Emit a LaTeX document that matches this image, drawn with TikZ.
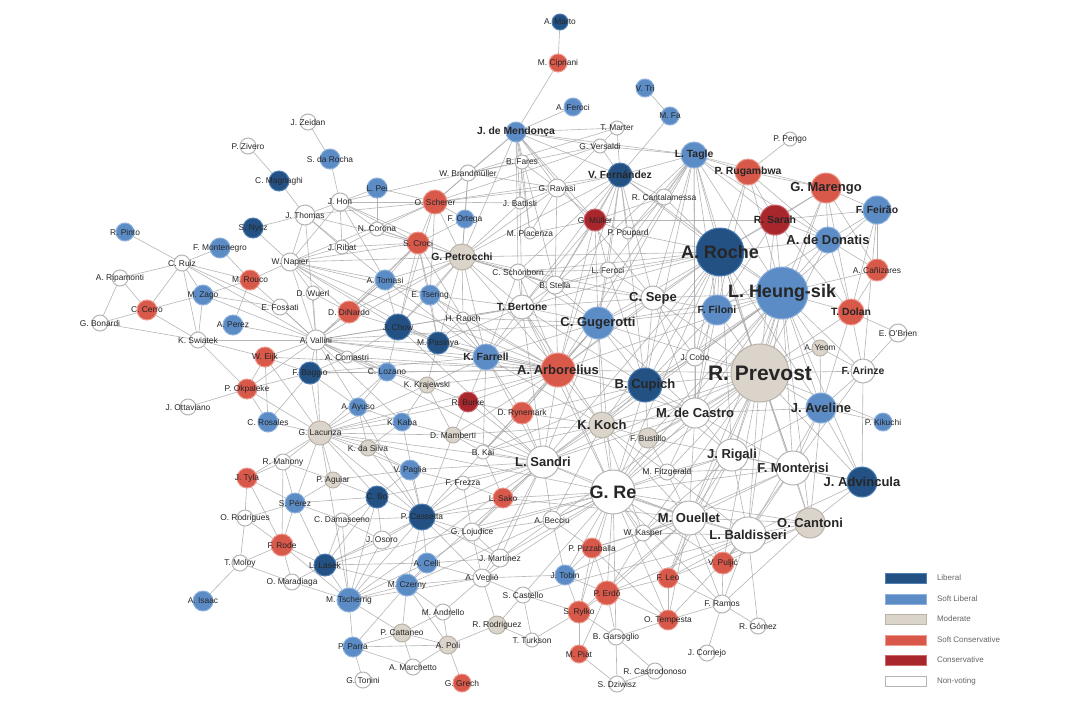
\documentclass[tikz,border=0pt]{standalone}
\usepackage{fontspec}
\setmainfont{Liberation Sans}
\definecolor{lib}{HTML}{245184}
\definecolor{libd}{HTML}{4F7FB3}
\definecolor{slib}{HTML}{5C8CC6}
\definecolor{slibd}{HTML}{8DB1DC}
\definecolor{mod}{HTML}{DAD4CB}
\definecolor{modd}{HTML}{B8B2A8}
\definecolor{scon}{HTML}{D8584A}
\definecolor{scond}{HTML}{EE9A8E}
\definecolor{con}{HTML}{A9262C}
\definecolor{cond}{HTML}{CC6A6E}
\definecolor{non}{HTML}{FFFFFF}
\definecolor{nond}{HTML}{B4B4B4}
\definecolor{edgec}{HTML}{A4A4A4}
\pgfdeclarelayer{bg}
\pgfsetlayers{bg,main}
\newcommand\ftA{\fontsize{10.5}{12}\selectfont\bfseries}
\newcommand\ftB{\fontsize{9}{10}\selectfont\bfseries}
\newcommand\ftC{\fontsize{6.5}{7}\selectfont\bfseries}
\newcommand\ftD{\fontsize{5.2}{6}\selectfont\bfseries}
\newcommand\ftE{\fontsize{4.2}{5}\selectfont}
\tikzset{
  every node/.style={inner sep=0pt, outer sep=0pt},
  edge/.style={draw=edgec, line width=0.3pt, opacity=0.8},
  legbox/.style={rectangle, minimum width=20.5pt, minimum height=5pt, line width=0.4pt},
  legtext/.style={anchor=west, font=\fontsize{4}{5}\selectfont, text=black!60},
}
\def\nodelist{%
marto/560/22/8/lib/E/A. Marto,
cipri/558/63/9/scon/E/M. Cipriani,
aferoci/573/107/9/slib/E/A. Feroci,
vtri/645/88/9/slib/E/V. Tri,
mfa/670/116/9/slib/E/M. Fa,
marter/617/128/7/non/E/T. Marter,
versaldi/600/146/7/non/E/G. Versaldi,
mendonca/516/132/10/slib/D/J. de Mendonça,
fares/522/162/7/non/E/B. Fares,
brand/468/173/8/non/E/W. Brandmüller,
vfern/620/175/12/lib/D/V. Fernández,
ravasi/557/188/9/non/E/G. Ravasi,
battisti/520/203/6/non/E/J. Battisti,
canta/664/197/8/non/E/R. Cantalamessa,
muller/595/220/11/con/E/G. Müller,
piacenza/530/233/6/non/E/M. Piacenza,
poupard/628/233/6/non/E/P. Poupard,
tagle/694/155/13/slib/D/L. Tagle,
rugambwa/748/172/13/scon/D/P. Rugambwa,
pengo/790/139/7/non/E/P. Pengo,
marengo/826/188/15/scon/C/G. Marengo,
feirao/877/210/14/slib/D/F. Feirão,
sarah/775/220/15/con/D/R. Sarah,
donatis/828/240/13/slib/C/A. de Donatis,
roche/720/252/24/lib/B/A. Roche,
heung/782/293/26/slib/B/L. Heung-sik,
canizares/877/270/11/scon/E/A. Cañizares,
dolan/851/312/13/scon/D/T. Dolan,
obrien/898/333/9/non/E/E. O'Brien,
yeom/820/348/8/mod/E/A. Yeom,
arinze/863/371/12/non/D/F. Arinze,
prevost/760/373/29/mod/A/R. Prevost,
aveline/821/408/15/slib/C/J. Aveline,
kikuchi/883/422/9/slib/E/P. Kikuchi,
advincula/862/482/15/lib/C/J. Advincula,
monterisi/793/468/17/non/C/F. Monterisi,
rigali/732/455/16/non/C/J. Rigali,
castro/695/413/15/non/C/M. de Castro,
cupich/645/385/17/lib/C/B. Cupich,
cobo/695/357/9/non/E/J. Cobo,
filoni/717/310/15/slib/D/F. Filoni,
sepe/653/298/12/non/C/C. Sepe,
lferoci/608/270/8/non/E/L. Feroci,
stella/555/285/9/non/E/B. Stella,
schon/518/272/8/non/E/C. Schönborn,
petrocchi/462/257/13/mod/D/G. Petrocchi,
bertone/522/307/12/non/D/T. Bertone,
gugerotti/598/323/16/slib/C/C. Gugerotti,
arborelius/558/370/17/scon/C/A. Arborelius,
koch/602/425/13/mod/C/K. Koch,
bustillo/648/438/10/mod/E/F. Bustillo,
sandri/543/462/16/non/C/L. Sandri,
re/613/492/22/non/B/G. Re,
fitz/667/472/8/non/E/M. Fitzgerald,
ouellet/689/518/17/non/C/M. Ouellet,
baldisseri/748/535/18/non/C/L. Baldisseri,
cantoni/810/523/15/mod/C/O. Cantoni,
kasper/643/533/8/non/E/W. Kasper,
becciu/552/520/9/non/E/A. Becciu,
pizzaballa/592/548/10/scon/E/P. Pizzaballa,
tobin/565/575/10/slib/E/J. Tobin,
erdo/607/593/12/scon/E/P. Erdő,
leo/668/578/10/scon/E/F. Leo,
puljic/723/563/11/scon/E/V. Puljić,
rylko/579/612/11/scon/E/S. Ryłko,
tempesta/668/620/10/scon/E/O. Tempesta,
ramos/722/604/9/non/E/F. Ramos,
gomez/758/626/8/non/E/R. Gómez,
garsoglio/616/637/8/non/E/B. Garsoglio,
cornejo/707/653/8/non/E/J. Cornejo,
piat/579/654/9/scon/E/M. Piat,
castrodonoso/655/671/8/non/E/R. Castrodonoso,
dziwisz/617/684/8/non/E/S. Dziwisz,
castello/523/595/8/non/E/S. Castello,
turkson/532/640/7/non/E/T. Turkson,
rodriguez/497/625/9/mod/E/R. Rodriguez,
martinez/500/558/9/non/E/J. Martínez,
veglio/482/578/9/non/E/A. Vegliò,
czerny/407/585/11/slib/E/M. Czerny,
celli/427/563/10/slib/E/A. Celli,
andrello/443/612/8/non/E/M. Andrello,
cattaneo/402/633/9/mod/E/P. Cattaneo,
poli/448/645/9/mod/E/A. Poli,
marchetto/413/667/8/non/E/A. Marchetto,
parra/353/647/10/slib/E/P. Parra,
tonini/363/680/8/non/E/G. Tonini,
grech/462/683/9/scon/E/G. Grech,
tscherrig/349/600/12/slib/E/M. Tscherrig,
lasek/325/565/11/lib/E/L. Lasek,
osoro/382/540/9/non/E/J. Osoro,
damasceno/342/520/7/non/E/C. Damasceno,
cassetta/422/517/13/lib/E/P. Cassetta,
lojudice/472/532/9/non/E/G. Lojudice,
sako/503/498/10/scon/E/L. Sako,
frezza/463/483/7/non/E/F. Frezza,
bo/377/497/11/lib/E/C. Bo,
paglia/410/470/10/slib/E/V. Paglia,
aguiar/333/480/8/mod/E/P. Aguiar,
perez/295/503/10/slib/E/S. Pérez,
tyla/247/478/10/scon/E/J. Tyla,
mahony/283/462/8/non/E/R. Mahony,
rodrigues/245/518/8/non/E/O. Rodrigues,
rode/282/545/11/scon/E/F. Rode,
moloy/240/563/8/non/E/T. Moloy,
maradiaga/292/582/8/non/E/O. Maradiaga,
isaac/203/601/10/slib/E/A. Isaac,
lacunza/320/433/12/mod/E/G. Lacunza,
dasilva/368/448/8/mod/E/K. da Silva,
kaba/402/422/9/slib/E/K. Kaba,
ayuso/358/407/9/slib/E/A. Ayuso,
mamberti/453/435/8/mod/E/D. Mamberti,
kai/483/452/7/non/E/B. Kai,
rynemark/522/413/11/scon/E/D. Rynemark,
burke/468/402/10/con/E/R. Burke,
krajewski/427/385/8/mod/E/K. Krajewski,
lozano/387/372/9/slib/E/C. Lozano,
baggio/310/373/11/lib/E/F. Baggio,
comastri/347/357/6/non/E/A. Comastri,
farrell/486/357/13/slib/D/K. Farrell,
pasinya/438/343/11/lib/E/M. Pasinya,
chow/398/327/13/lib/E/J. Chow,
rauch/463/318/6/non/E/H. Rauch,
vallini/316/340/10/non/E/A. Vallini,
eijk/265/357/10/scon/E/W. Eijk,
okpaleke/247/389/10/scon/E/P. Okpaleke,
ottaviano/188/407/8/non/E/J. Ottaviano,
rosales/268/422/10/slib/E/C. Rosales,
dinardo/349/312/11/scon/E/D. DiNardo,
tsering/430/295/10/slib/E/E. Tsering,
tomasi/385/280/10/slib/E/A. Tomasi,
wuerl/313/293/7/non/E/D. Wuerl,
napier/290/262/9/non/E/W. Napier,
croci/418/243/11/scon/E/S. Croci,
ribat/342/247/7/non/E/J. Ribat,
corona/377/229/7/non/E/N. Corona,
ortega/465/219/9/slib/E/F. Ortega,
scherer/435/202/12/scon/E/O. Scherer,
hon/340/202/9/non/E/J. Hon,
pei/377/188/10/slib/E/L. Pei,
dacrocha/330/159/10/slib/E/S. da Rocha,
zeidan/308/122/8/non/E/J. Zeidan,
zivero/248/146/8/non/E/P. Zivero,
magnaghi/279/181/10/lib/E/C. Magnaghi,
thomas/305/215/10/non/E/J. Thomas,
nycz/253/228/10/lib/E/S. Nycz,
pinto/125/232/9/slib/E/R. Pinto,
montenegro/220/248/10/slib/E/F. Montenegro,
ruiz/182/263/8/non/E/C. Ruiz,
ripamonti/120/278/8/non/E/A. Ripamonti,
rouco/250/280/10/scon/E/M. Rouco,
zago/203/295/10/slib/E/M. Zago,
fossati/280/307/8/non/E/E. Fossati,
cerro/147/310/10/scon/E/C. Cerro,
bonardi/100/323/8/non/E/G. Bonardi,
aperez/233/325/10/slib/E/A. Perez,
swiatek/198/340/8/non/E/K. Swiatek}
\begin{document}
\begin{tikzpicture}[x=0.5pt,y=-0.5pt]
\begin{pgfonlayer}{bg}
\fill[white] (0,0) rectangle (1079,718);
\end{pgfonlayer}
\useasboundingbox (0,0) rectangle (1079,718);
% node circles
\foreach \nm/\xx/\yy/\rr/\cl/\ft/\tx in \nodelist {
  \node[circle, minimum size=\rr pt, fill=\cl, draw=\cl d, line width=0.5pt] (\nm) at (\xx,\yy) {};
}
% connectors
\begin{pgfonlayer}{bg}
\foreach \a/\b in {
marto/cipri, cipri/mendonca, aferoci/mendonca, vtri/mfa, mfa/vfern,
mendonca/fares, mendonca/brand, mendonca/vfern, mendonca/ravasi, mendonca/scherer, mendonca/versaldi, mendonca/marter, mendonca/tagle, mendonca/piacenza, mendonca/battisti, mendonca/muller,
marter/vfern, marter/ravasi, marter/brand,
versaldi/brand, versaldi/vfern, versaldi/tagle, versaldi/scherer,
fares/battisti, fares/piacenza, fares/ravasi, fares/brand,
brand/scherer, brand/ravasi, brand/hon, brand/petrocchi, brand/ortega,
vfern/tagle, vfern/ravasi, vfern/canta, vfern/muller, vfern/poupard, vfern/roche, vfern/gugerotti, vfern/sepe, vfern/heung, vfern/scherer, vfern/schon,
ravasi/piacenza, ravasi/muller, ravasi/battisti, ravasi/scherer, ravasi/stella, ravasi/petrocchi,
battisti/scherer, battisti/petrocchi, battisti/bertone,
canta/tagle, canta/roche, canta/muller, canta/poupard,
muller/piacenza, muller/sarah, muller/lferoci, muller/poupard, muller/bertone, muller/gugerotti, muller/arborelius, muller/stella,
tagle/rugambwa, tagle/roche, tagle/heung, tagle/filoni, tagle/sepe, tagle/sarah, tagle/gugerotti, tagle/cupich, tagle/donatis, tagle/marengo, tagle/castro, tagle/prevost, tagle/poupard,
rugambwa/pengo, rugambwa/marengo, rugambwa/sarah, rugambwa/roche, rugambwa/heung, rugambwa/donatis, rugambwa/filoni,
marengo/sarah, marengo/donatis, marengo/feirao, marengo/heung, marengo/roche, marengo/canizares, marengo/dolan, marengo/prevost,
feirao/donatis, feirao/heung, feirao/sarah, feirao/dolan, feirao/arinze, feirao/canizares,
sarah/roche, sarah/heung, sarah/donatis, sarah/filoni, sarah/prevost, sarah/dolan,
donatis/roche, donatis/heung, donatis/canizares, donatis/dolan, donatis/prevost, donatis/filoni,
roche/heung, roche/filoni, roche/sepe, roche/prevost, roche/gugerotti, roche/cupich, roche/castro, roche/lferoci, roche/arborelius, roche/cobo, roche/rigali, roche/poupard, roche/aveline,
heung/filoni, heung/prevost, heung/dolan, heung/canizares, heung/yeom, heung/arinze, heung/aveline, heung/castro, heung/cupich, heung/sepe, heung/gugerotti, heung/rigali, heung/monterisi, heung/re, heung/arborelius,
canizares/dolan, dolan/obrien, dolan/arinze, dolan/prevost, dolan/aveline, obrien/arinze,
yeom/prevost, yeom/arinze, yeom/aveline,
arinze/prevost, arinze/aveline, arinze/advincula, arinze/monterisi,
prevost/aveline, prevost/castro, prevost/cupich, prevost/rigali, prevost/monterisi, prevost/re, prevost/ouellet, prevost/baldisseri, prevost/cantoni, prevost/filoni, prevost/cobo, prevost/sepe, prevost/gugerotti, prevost/arborelius, prevost/koch, prevost/advincula, prevost/sandri, prevost/bustillo, prevost/fitz,
aveline/kikuchi, aveline/advincula, aveline/monterisi, aveline/rigali, aveline/castro, aveline/cantoni, aveline/baldisseri,
advincula/monterisi, advincula/cantoni, advincula/baldisseri, advincula/rigali,
monterisi/rigali, monterisi/baldisseri, monterisi/cantoni, monterisi/ouellet, monterisi/castro, monterisi/re,
rigali/castro, rigali/re, rigali/ouellet, rigali/baldisseri, rigali/fitz, rigali/cupich,
castro/cupich, castro/re, castro/koch, castro/bustillo, castro/ouellet, castro/cobo, castro/filoni, castro/sepe,
cupich/arborelius, cupich/gugerotti, cupich/sepe, cupich/koch, cupich/re, cupich/sandri, cupich/cobo, cupich/filoni, cupich/bustillo, cupich/farrell, cupich/bertone,
cobo/filoni, cobo/sepe, filoni/sepe, filoni/gugerotti,
sepe/gugerotti, sepe/lferoci, sepe/stella, sepe/bertone, sepe/arborelius,
lferoci/stella, lferoci/gugerotti, lferoci/schon,
stella/schon, stella/bertone, stella/gugerotti, stella/petrocchi,
schon/petrocchi, schon/bertone, schon/farrell,
petrocchi/bertone, petrocchi/croci, petrocchi/scherer, petrocchi/ortega, petrocchi/tsering, petrocchi/chow, petrocchi/farrell, petrocchi/arborelius, petrocchi/corona, petrocchi/napier,
bertone/gugerotti, bertone/arborelius, bertone/farrell, bertone/rauch, bertone/re,
gugerotti/arborelius, gugerotti/koch, gugerotti/re, gugerotti/farrell, gugerotti/sandri,
arborelius/koch, arborelius/sandri, arborelius/re, arborelius/farrell, arborelius/rynemark, arborelius/burke, arborelius/pasinya, arborelius/chow, arborelius/vallini, arborelius/kai, arborelius/lacunza, arborelius/krajewski,
koch/sandri, koch/re, koch/bustillo, koch/rynemark, koch/fitz, koch/ouellet,
bustillo/re, bustillo/fitz,
sandri/re, sandri/becciu, sandri/kai, sandri/rynemark, sandri/ouellet, sandri/sako, sandri/lojudice, sandri/cassetta, sandri/mamberti,
re/fitz, re/ouellet, re/baldisseri, re/kasper, re/becciu, re/pizzaballa, re/erdo, re/tobin, re/leo, re/sako, re/puljic, re/rylko, re/cantoni,
fitz/ouellet, fitz/baldisseri,
ouellet/baldisseri, ouellet/kasper, ouellet/cantoni, ouellet/leo, ouellet/puljic, ouellet/pizzaballa, ouellet/erdo,
baldisseri/cantoni, baldisseri/puljic, baldisseri/ramos, baldisseri/kasper, baldisseri/castello,
cantoni/puljic,
kasper/pizzaballa, kasper/erdo,
becciu/pizzaballa, becciu/martinez, becciu/tobin, becciu/lojudice,
pizzaballa/erdo, pizzaballa/tobin, pizzaballa/rylko, pizzaballa/tempesta,
tobin/erdo, tobin/rylko, tobin/veglio,
erdo/rylko, erdo/garsoglio, erdo/leo, erdo/tempesta, erdo/piat,
leo/tempesta, leo/ramos, puljic/ramos,
rylko/piat, rylko/castello, rylko/garsoglio, rylko/turkson,
tempesta/ramos, tempesta/garsoglio,
ramos/gomez, ramos/cornejo,
garsoglio/dziwisz, garsoglio/castrodonoso, piat/dziwisz, castrodonoso/dziwisz,
castello/rodriguez, castello/turkson, castello/veglio,
rodriguez/veglio, rodriguez/poli, rodriguez/turkson,
martinez/veglio, martinez/lojudice, martinez/celli,
veglio/czerny, veglio/celli, veglio/andrello, veglio/lojudice,
czerny/celli, czerny/tscherrig, czerny/andrello, czerny/cattaneo, czerny/parra, czerny/poli, czerny/cassetta, czerny/lasek,
celli/cassetta, celli/lojudice,
andrello/poli, andrello/cattaneo,
cattaneo/poli, cattaneo/parra, cattaneo/marchetto,
poli/grech, poli/marchetto, poli/parra,
parra/tonini, parra/tscherrig, parra/marchetto,
tscherrig/lasek, tscherrig/osoro, tscherrig/maradiaga, tscherrig/cassetta, tscherrig/cattaneo, tscherrig/rode,
lasek/osoro, lasek/damasceno, lasek/rode, lasek/maradiaga, lasek/cassetta,
osoro/cassetta, osoro/damasceno, osoro/bo,
damasceno/cassetta, damasceno/perez, damasceno/bo,
cassetta/lojudice, cassetta/bo, cassetta/paglia, cassetta/frezza, cassetta/sako, cassetta/lacunza,
lojudice/sako, lojudice/frezza, sako/frezza, sako/kai, frezza/paglia,
bo/paglia, bo/aguiar, bo/lacunza, bo/perez,
paglia/aguiar, paglia/dasilva, paglia/lacunza,
aguiar/perez, aguiar/lacunza, aguiar/mahony,
perez/tyla, perez/rode, perez/mahony, perez/rodrigues,
tyla/mahony, tyla/rodrigues, tyla/rode, tyla/lacunza,
rodrigues/rode, rodrigues/moloy, rode/moloy, rode/maradiaga, moloy/maradiaga, moloy/isaac,
lacunza/dasilva, lacunza/kaba, lacunza/ayuso, lacunza/baggio, lacunza/vallini, lacunza/rosales, lacunza/mahony, lacunza/okpaleke,
dasilva/kaba, dasilva/ayuso, kaba/ayuso, kaba/krajewski, kaba/mamberti,
ayuso/lozano, ayuso/baggio,
mamberti/burke, mamberti/kai, mamberti/krajewski, kai/rynemark, rynemark/burke,
burke/krajewski, burke/farrell, krajewski/lozano, krajewski/pasinya,
lozano/baggio, lozano/comastri, lozano/chow,
baggio/vallini, baggio/comastri, baggio/rosales, baggio/eijk, baggio/farrell,
comastri/vallini, comastri/chow,
farrell/pasinya, farrell/chow, farrell/rauch, farrell/tsering,
pasinya/chow, pasinya/rauch, pasinya/tsering,
chow/tsering, chow/tomasi, chow/dinardo, chow/vallini,
rauch/tsering,
vallini/eijk, vallini/okpaleke, vallini/wuerl, vallini/napier, vallini/fossati, vallini/dinardo, vallini/swiatek, vallini/rouco, vallini/zago, vallini/tomasi, vallini/thomas, vallini/ruiz, vallini/farrell, vallini/sandri, vallini/gugerotti,
lacunza/sandri, lacunza/re, cassetta/re, lasek/re, baggio/arborelius, eijk/arborelius, tscherrig/sandri, napier/arborelius,
eijk/okpaleke, eijk/swiatek, okpaleke/ottaviano, okpaleke/rosales, rosales/eijk,
dinardo/tomasi, dinardo/wuerl, dinardo/napier,
tsering/tomasi, tsering/croci, tomasi/croci, tomasi/napier, wuerl/napier,
napier/thomas, napier/ribat, napier/hon, napier/croci, napier/rouco, napier/nycz,
croci/scherer, croci/ribat, croci/corona, ribat/corona, ribat/hon,
corona/hon, corona/scherer, ortega/scherer, ortega/croci,
scherer/hon, scherer/pei, scherer/thomas,
hon/thomas, hon/dacrocha, hon/pei, pei/corona,
dacrocha/zeidan, zivero/magnaghi, magnaghi/thomas, thomas/nycz,
pinto/ruiz, montenegro/rouco, montenegro/ruiz,
ruiz/ripamonti, ruiz/cerro, ruiz/zago, ruiz/swiatek, ruiz/rouco, ruiz/fossati,
ripamonti/cerro, ripamonti/bonardi,
rouco/zago, rouco/aperez, zago/cerro, zago/swiatek, zago/fossati,
cerro/bonardi, cerro/swiatek, bonardi/swiatek,
aperez/vallini, swiatek/okpaleke,
re/czerny, re/martinez, re/veglio, re/lojudice, re/castello, re/garsoglio, re/tempesta, re/ramos,
sandri/czerny, sandri/bo, sandri/paglia, sandri/frezza, sandri/burke, sandri/farrell, sandri/chow, sandri/martinez, sandri/veglio,
ouellet/tobin, ouellet/rylko, ouellet/tempesta, ouellet/ramos, ouellet/sako,
baldisseri/leo, baldisseri/erdo, baldisseri/tempesta, baldisseri/gomez,
monterisi/fitz, monterisi/kasper, monterisi/puljic, cantoni/ramos, cantoni/leo,
rigali/kasper, rigali/leo, rigali/bustillo,
castro/fitz, castro/sandri, castro/arborelius, castro/gugerotti,
cupich/rynemark, cupich/kai, cupich/lferoci,
koch/kai, koch/mamberti, koch/becciu, koch/kasper, koch/farrell,
arborelius/mamberti, arborelius/tsering, arborelius/rauch, arborelius/schon, arborelius/stella, arborelius/lozano, arborelius/comastri,
gugerotti/rauch, gugerotti/schon, gugerotti/rynemark, gugerotti/kai,
farrell/krajewski, farrell/kai, farrell/rynemark, farrell/tomasi, farrell/stella,
petrocchi/tomasi, petrocchi/dinardo, petrocchi/rauch, petrocchi/pasinya, petrocchi/stella, petrocchi/sepe,
bertone/pasinya, bertone/chow, bertone/tsering, bertone/koch, bertone/sandri,
vallini/kaba, vallini/ayuso, vallini/lozano, vallini/krajewski, vallini/pasinya, vallini/croci, vallini/petrocchi, vallini/bertone,
lacunza/lozano, lacunza/krajewski, lacunza/burke, lacunza/mamberti, lacunza/perez, lacunza/eijk, lacunza/tscherrig,
cassetta/mamberti, cassetta/kai, cassetta/kaba, cassetta/dasilva, cassetta/ayuso, cassetta/veglio, cassetta/martinez,
tscherrig/bo, tscherrig/damasceno, tscherrig/celli, tscherrig/veglio,
lasek/bo, lasek/perez, lasek/celli,
heung/cobo, heung/bustillo, heung/koch, heung/sandri, heung/ouellet, heung/baldisseri, heung/cantoni, heung/advincula,
roche/koch, roche/re, roche/sandri, roche/monterisi, roche/bertone, roche/stella, roche/schon, roche/petrocchi,
prevost/kikuchi, prevost/kasper, prevost/puljic, prevost/leo, prevost/becciu,
tagle/lferoci, tagle/stella, tagle/arborelius, tagle/cobo,
vfern/arborelius, vfern/stella, vfern/lferoci, vfern/cupich, vfern/bertone, vfern/petrocchi,
mendonca/petrocchi, mendonca/stella, mendonca/schon, mendonca/sepe,
scherer/tsering, scherer/chow, scherer/napier,
croci/chow, croci/dinardo, croci/pasinya, croci/farrell,
napier/chow, napier/tsering, napier/pasinya,
hon/croci, hon/tomasi, hon/petrocchi,
thomas/croci, thomas/tomasi, thomas/ribat,
okpaleke/baggio, mahony/rode} { \draw[edge] (\a) -- (\b); }
\end{pgfonlayer}
% labels
\foreach \nm/\xx/\yy/\rr/\cl/\ft/\tx in \nodelist {
  \node[font=\csname ft\ft\endcsname, text=black!85] (l\nm) at (\nm.center) {\tx};
}
% legend
\node[legbox, fill=lib, draw=libd] (k1) at (906,578) {};
\node[legbox, fill=slib, draw=slibd] (k2) at (906,599) {};
\node[legbox, fill=mod, draw=modd] (k3) at (906,619) {};
\node[legbox, fill=scon, draw=scond] (k4) at (906,640) {};
\node[legbox, fill=con, draw=cond] (k5) at (906,660) {};
\node[legbox, fill=white, draw=nond] (k6) at (906,681) {};
\node[legtext] (k1t) at (937,578) {Liberal};
\node[legtext] (k2t) at (937,599) {Soft Liberal};
\node[legtext] (k3t) at (937,619) {Moderate};
\node[legtext] (k4t) at (937,640) {Soft Conservative};
\node[legtext] (k5t) at (937,660) {Conservative};
\node[legtext] (k6t) at (937,681) {Non-voting};
\end{tikzpicture}
\end{document}
